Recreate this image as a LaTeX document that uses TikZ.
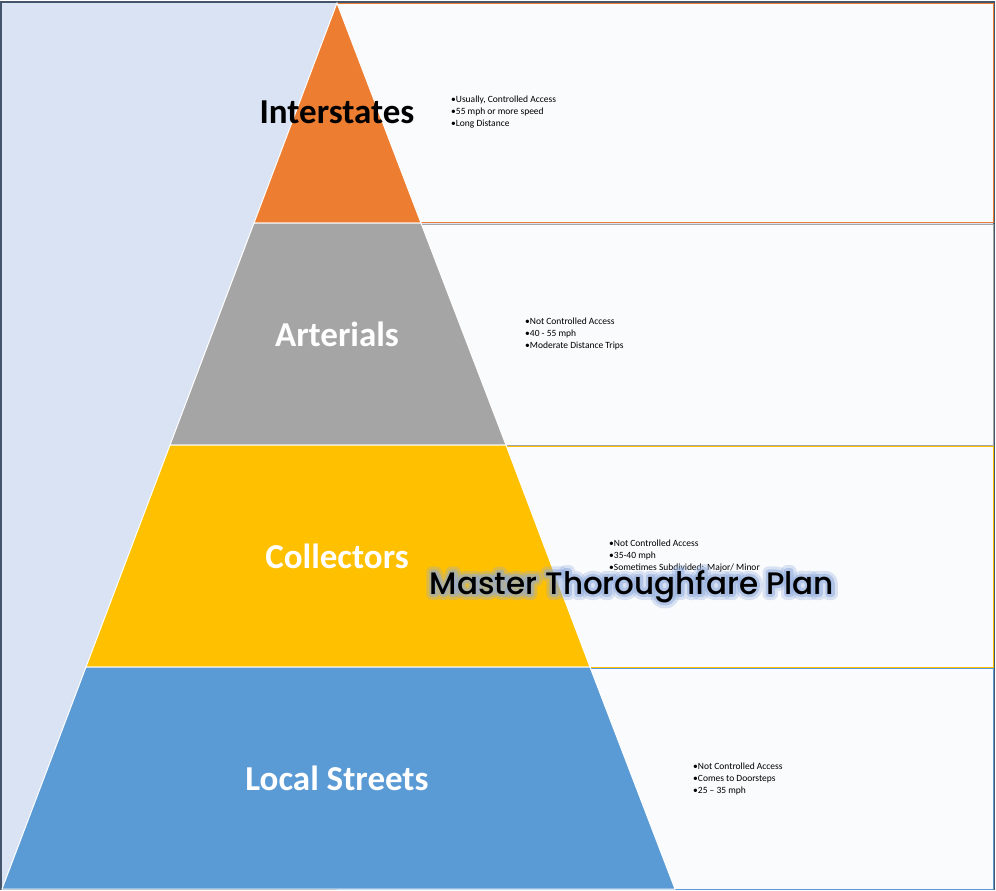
\documentclass[tikz,border=0pt]{standalone}
\usepackage{fontspec}
\setmainfont{Carlito}
\newfontfamily\titlefont{Poppins Medium}
\usepackage{tikz}
\usetikzlibrary{positioning,calc}
\definecolor{mtframe}{RGB}{68,84,106}
\definecolor{mtbg}{RGB}{218,227,243}
\definecolor{mtbox}{RGB}{250,251,253}
\definecolor{mtorange}{RGB}{237,125,49}
\definecolor{mtgray}{RGB}{165,165,165}
\definecolor{mtgold}{RGB}{255,192,0}
\definecolor{mtblue}{RGB}{91,155,213}
\definecolor{mtglow}{RGB}{143,170,220}
\newcommand{\glowtext}[2]{\special{pdf:literal direct 2 Tr 1 j #1 w}#2\special{pdf:literal direct 0 Tr}}
\tikzstyle{layer} = [draw=white, line width=1pt]
\tikzstyle{infobox} = [fill=mtbox, line width=0.8pt]
\tikzstyle{layerlabel} = [inner sep=0pt, font=\fontsize{35}{40}\selectfont\bfseries, text=white]
\tikzstyle{infotext} = [anchor=west, inner sep=0pt, align=left, font=\fontsize{9.5}{12.3}\selectfont]
\tikzstyle{titletext} = [anchor=base, inner sep=0pt, font=\fontsize{31}{36}\selectfont\titlefont]

\begin{document}
\begin{tikzpicture}[x=1pt, y=-1pt]
\useasboundingbox (0,0) rectangle (996,891);
% Frame and background
\fill[mtbg] (1,2) rectangle (994,889);
\draw[mtframe, line width=1.2pt] (1,2) rectangle (994,889);

% Pyramid corners
\coordinate (apex) at (337,3);
\coordinate (l1) at (254,223);
\coordinate (r1) at (421,223);
\coordinate (l2) at (170,445);
\coordinate (r2) at (506,445);
\coordinate (l3) at (86,667);
\coordinate (r3) at (590,667);
\coordinate (l4) at (2,889);
\coordinate (r4) at (675,889);

% Boxes to the right
\draw[infobox, draw=mtorange] (337,3) rectangle (993,222);
\draw[infobox, draw=mtgray] (337,224) rectangle (993,445);
\draw[infobox, draw=mtgold] (337,446) rectangle (993,667);
\draw[infobox, draw=mtblue] (337,668) rectangle (993,889);

% Layers
\fill[white] (apex) -- (l4) -- (r4) -- cycle;
\filldraw[layer, fill=mtorange] (apex) -- (l1) -- (r1) -- cycle;
\filldraw[layer, fill=mtgray] (l1) -- (l2) -- (r2) -- (r1) -- cycle;
\filldraw[layer, fill=mtgold] (l2) -- (l3) -- (r3) -- (r2) -- cycle;
\filldraw[layer, fill=mtblue] (l3) -- (l4) -- (r4) -- (r3) -- cycle;

% Labels
\node[layerlabel, text=black] (interstates) at (337,112) {Interstates};
\node[layerlabel] (arterials) at (337,334) {Arterials};
\node[layerlabel] (collectors) at (337,556) {Collectors};
\node[layerlabel] (local) at (337,778) {Local Streets};

% Bullets
\node[infotext] (interinfo) at (451,112) {•Usually, Controlled Access\\•55 mph or more speed\\•Long Distance};
\node[infotext] (artinfo) at (525,334) {•Not Controlled Access\\•40 - 55 mph\\•Moderate Distance Trips};
\node[infotext] (collinfo) at (609,556) {•Not Controlled Access\\•35-40 mph\\•Sometimes Subdivided: Major/ Minor};
\node[infotext] (localinfo) at (693,779) {•Not Controlled Access\\•Comes to Doorsteps\\•25 – 35 mph};

% Title with glow
\node[titletext, text=mtglow, opacity=0.3] (haze) at (632,594) {\glowtext{12}{Master Thoroughfare Plan}};
\node[titletext, text=mtglow, opacity=0.5] (glow) at (632,594) {\glowtext{6}{Master Thoroughfare Plan}};
\node[titletext] (title) at (632,594) {Master Thoroughfare Plan};
\end{tikzpicture}
\end{document}
